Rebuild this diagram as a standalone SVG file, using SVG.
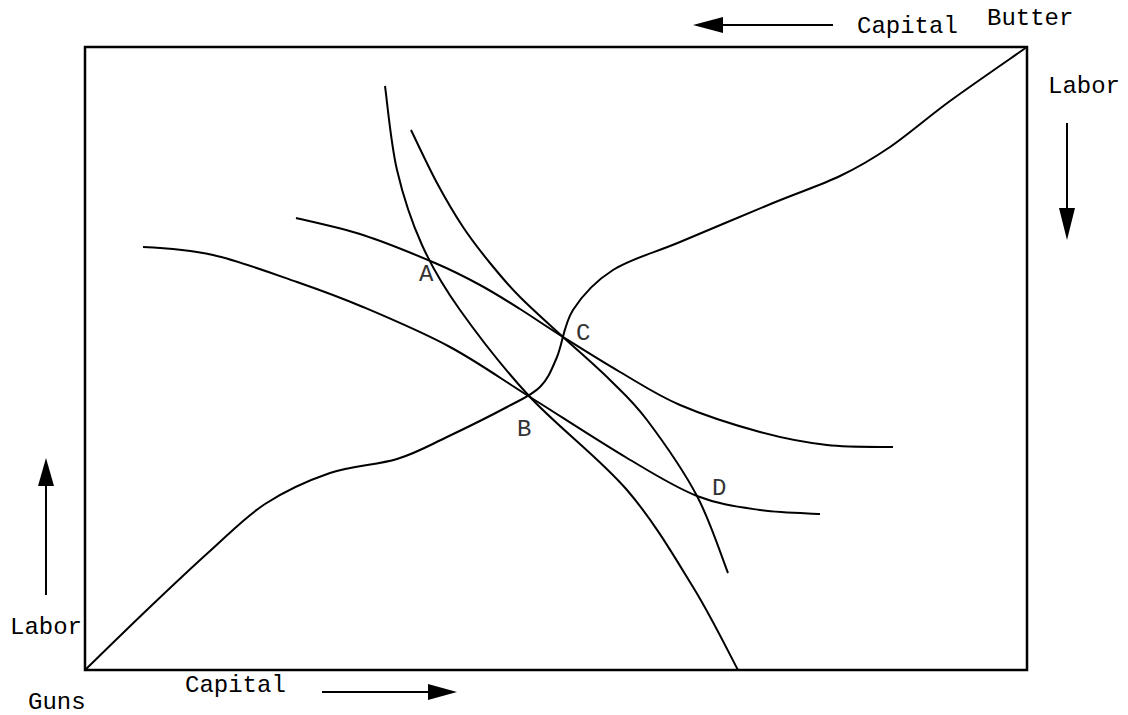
<svg xmlns="http://www.w3.org/2000/svg" width="1128" height="715" viewBox="0 0 1128 715">
<style>
.frame{fill:none;stroke:#000;stroke-width:2.5}
.curve{fill:none;stroke:#000;stroke-width:2;stroke-linecap:butt}
.arrow{fill:none;stroke:#000;stroke-width:2}
.head{fill:#000;stroke:none}
text{font-family:"Liberation Mono","Courier New",monospace;font-size:24px;fill:#000}
.pt{fill:#333}
</style>
<rect width="1128" height="715" fill="#fff"/>
<g id="box"><rect class="frame" x="85" y="47" width="942" height="623"/></g>
<g id="connectors">
<path id="guns-curve" class="curve" d="M85,670 C95.8,659.5 129.2,626.8 150,607 C170.8,587.2 190.8,568.2 210,551 C229.2,533.8 245,517 265,504 C285,491 308,480.5 330,473 C352,465.5 377.5,465 397,459 C416.5,453 428.7,445.7 447,437 C465.3,428.3 491.5,415.3 507,407 C522.5,398.7 531.7,395.3 540,387 C548.3,378.7 551.5,369.8 557,357 C562.5,344.2 563.7,324.5 573,310 C582.3,295.5 595.2,281.3 613,270 C630.8,258.7 653.3,253.2 680,242 C706.7,230.8 746.3,214 773,203 C799.7,192 820.5,185.3 840,176 C859.5,166.7 871.7,159.5 890,147 C908.3,134.5 927.2,117.7 950,101 C972.8,84.3 1014.2,56 1027,47"/>
<path id="curve-a" class="curve" d="M385,86 C387,100 390.8,143.5 397,170 C403.2,196.5 411.5,221.7 422,245 C432.5,268.3 442,284.7 460,310 C478,335.3 502.2,367 530,397 C557.8,427 599.8,458.3 627,490 C654.2,521.7 674.5,557 693,587 C711.5,617 730.5,656.2 738,670"/>
<path id="curve-b" class="curve" d="M411,130 C415.3,138.8 428.3,166.8 437,183 C445.7,199.2 454.2,213.7 463,227 C471.8,240.3 480.5,251.3 490,263 C499.5,274.7 507.8,284.7 520,297 C532.2,309.3 548,323.2 563,337 C578,350.8 596,366.2 610,380 C624,393.8 632.5,400.7 647,420 C661.5,439.3 683.5,470.5 697,496 C710.5,521.5 722.8,560.2 728,573"/>
<path id="curve-c" class="curve" d="M296,218 C307.2,220.8 339.8,227.5 363,235 C386.2,242.5 415.5,254.7 435,263 C454.5,271.3 465.8,277.3 480,285 C494.2,292.7 506.2,300.3 520,309 C533.8,317.7 546.3,326.5 563,337 C579.7,347.5 600.5,360.7 620,372 C639.5,383.3 656.7,395 680,405 C703.3,415 735.5,425.3 760,432 C784.5,438.7 804.8,442.5 827,445 C849.2,447.5 882,446.7 893,447"/>
<path id="curve-d" class="curve" d="M143,247 C166,248 187.3,249.2 213,255 C238.7,260.8 272,273.3 297,282 C322,290.7 337.5,296.2 363,307 C388.5,317.8 422.2,332 450,347 C477.8,362 500.5,378.5 530,397 C559.5,415.5 599.2,441.5 627,458 C654.8,474.5 674.8,487.3 697,496 C719.2,504.7 739.5,507 760,510 C780.5,513 810,513.3 820,514"/>
</g>
<g id="arrow-top"><line class="arrow" x1="833" y1="25" x2="715" y2="25"/><polygon class="head" points="693,25 723,17 723,33"/></g>
<g id="arrow-right"><line class="arrow" x1="1067" y1="123" x2="1067" y2="215"/><polygon class="head" points="1067,240 1059,208 1075,208"/></g>
<g id="arrow-left"><line class="arrow" x1="46" y1="595" x2="46" y2="480"/><polygon class="head" points="46,458 38,486 54,486"/></g>
<g id="arrow-bottom"><line class="arrow" x1="322" y1="692" x2="435" y2="692"/><polygon class="head" points="457,692 428,684 428,700"/></g>
<g id="labels">
<text x="857" y="33">Capital</text>
<text x="987" y="25">Butter</text>
<text x="1048" y="93">Labor</text>
<text x="10" y="634">Labor</text>
<text x="185" y="692">Capital</text>
<text x="28" y="709">Guns</text>
<text class="pt" x="419" y="281">A</text>
<text class="pt" x="517" y="436">B</text>
<text class="pt" x="576" y="340">C</text>
<text class="pt" x="712" y="495">D</text>
</g>
</svg>
